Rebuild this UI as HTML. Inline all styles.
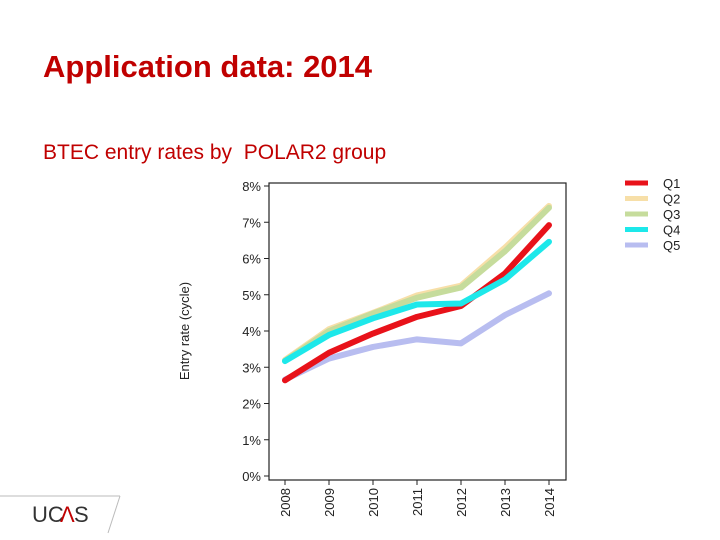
<!DOCTYPE html>
<html><head><meta charset="utf-8"><style>
body{margin:0;background:#fff;}
#wrap{position:relative;width:720px;height:540px;overflow:hidden;font-family:"Liberation Sans",sans-serif;}
.t{position:absolute;font-family:"Liberation Sans",sans-serif;white-space:nowrap;}
</style></head><body>
<div id="wrap">
<div class="t" style="left:43px;top:49px;font-size:31px;font-weight:bold;color:#c00000;">Application data: 2014</div>
<div class="t" style="left:43px;top:141px;font-size:21px;color:#c00000;">BTEC entry rates by&nbsp; POLAR2 group</div>
<svg id="chart" width="720" height="540" style="position:absolute;left:0;top:0"></svg>
<svg width="130" height="45" style="position:absolute;left:0;top:495px">
<line x1="0" y1="1" x2="120" y2="1" stroke="#bbb" stroke-width="1"/>
<line x1="120" y1="1" x2="108" y2="38" stroke="#bbb" stroke-width="1"/>
<text x="32" y="27" font-family="Liberation Sans" font-size="22" fill="#333">UC</text>
<text x="60" y="27" font-family="Liberation Sans" font-size="22" fill="#c00000">Λ</text>
<text x="74" y="27" font-family="Liberation Sans" font-size="22" fill="#333">S</text>
</svg>
</div>
<script>
const years=["2008","2009","2010","2011","2012","2013","2014"];
const yTicks=[0,1,2,3,4,5,6,7,8];
const q1=[2.64,3.4,3.93,4.39,4.69,5.59,6.92];
const q2=[3.2,4.05,4.5,4.98,5.25,6.3,7.45];
const q3=[3.18,4.0,4.48,4.92,5.2,6.2,7.4];
const q4=[3.17,3.89,4.35,4.73,4.76,5.42,6.46];
const q5=[2.66,3.24,3.56,3.77,3.66,4.44,5.04];
const names=["Q1","Q2","Q3","Q4","Q5"];
const svg=document.getElementById('chart');
const NS='http://www.w3.org/2000/svg';
const X0=285,X1=549,Y0=476,Y8=186;
const xs=i=>X0+(X1-X0)*i/(years.length-1);
const ys=v=>Y0-(Y0-Y8)*v/8;
function el(t,a){const e=document.createElementNS(NS,t);for(const k in a)e.setAttribute(k,a[k]);svg.appendChild(e);return e;}
const box=el('rect',{x:269,y:183,width:297,height:297,fill:'none',stroke:'#222','stroke-width':1.2});


yTicks.forEach(v=>{
 const l=el('line',{x1:264,x2:269,y1:ys(v),y2:ys(v),stroke:'#222'});
 
 
 const t=el('text',{x:261,y:ys(v)+5,'text-anchor':'end','font-size':13,'font-family':'Liberation Sans',fill:'#222'});
 t.textContent=v+'%';
 
 
});
years.forEach((y,i)=>{
 const l=el('line',{x1:xs(i),x2:xs(i),y1:480,y2:485,stroke:'#222'});
 
 
 const t=el('text',{x:0,y:0,'text-anchor':'end','font-size':13,'font-family':'Liberation Sans',fill:'#222',transform:`translate(${xs(i)+5},488) rotate(-90)`});
 t.textContent=y;
 
 
});
const yt=el('text',{x:0,y:0,'text-anchor':'middle','font-size':13,'font-family':'Liberation Sans',fill:'#222',transform:'translate(189,331) rotate(-90)'});
yt.textContent='Entry rate (cycle)';


const series=[q2,q3,q5,q1,q4];
const cols=['#f7dfa8','#c6dc9c','#b8bdf0','#e8121a','#1de8ea'];
const order=[1,2,4,0,3];
series.forEach((s,k)=>{
 const p=el('polyline',{points:s.map((v,i)=>xs(i)+','+ys(v)).join(' '),fill:'none',stroke:cols[k],'stroke-width':6,'stroke-linejoin':'round','stroke-linecap':'round'});
 
 
});
const lcols=['#e8121a','#f7dfa8','#c6dc9c','#1de8ea','#b8bdf0'];
names.forEach((n,i)=>{
 const y=183+i*15.5;
 const l=el('line',{x1:625,x2:648,y1:y,y2:y,stroke:lcols[i],'stroke-width':5});
 
 
 const t=el('text',{x:663,y:y+5,'font-size':13,'font-family':'Liberation Sans',fill:'#222'});
 t.textContent=n;
 
 
});
</script>
</body></html>
